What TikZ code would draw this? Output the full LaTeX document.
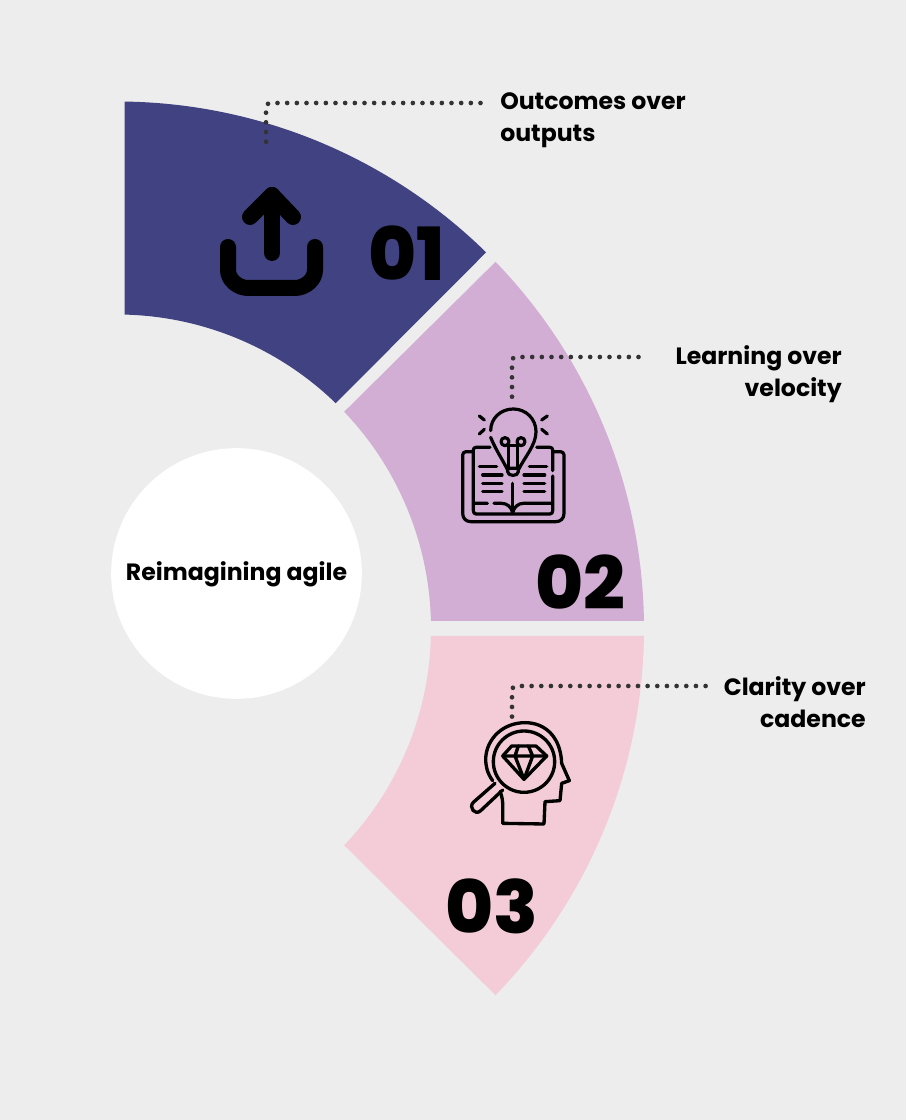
\documentclass[tikz,border=0pt]{standalone}
\usepackage{fontspec}
\setmainfont{Poppins}
\newfontfamily\numfont{Poppins ExtraBold}
\usetikzlibrary{calc}
\definecolor{bgcol}{HTML}{EDEDED}
\definecolor{navycol}{HTML}{414281}
\definecolor{lilaccol}{HTML}{D3AED4}
\definecolor{rosecol}{HTML}{F3CCD8}
\definecolor{dotcol}{HTML}{333333}
% colour, outer start/end angle, inner end/start angle
\newcommand{\sector}[5]{\fill[#1] ($(c)+(#2:527)$) arc[start angle=#2,end angle=#3,radius=527] -- ($(c)+(#4:314)$) arc[start angle=#4,end angle=#5,radius=314] -- cycle;}
\begin{document}
\begin{tikzpicture}[x=.75pt,y=.75pt,
label node/.style={font=\bfseries\fontsize{17.7}{24}\selectfont,inner sep=0pt},
num node/.style={font=\numfont\fontsize{55}{55}\selectfont,inner sep=0pt},
dots/.style={draw=dotcol,line width=3.5pt,line cap=round,dash pattern=on 0pt off 7.25pt,rounded corners=3pt},
icon/.style={line width=#1,line cap=round,line join=round,draw=black}]
\fill[bgcol] (0,0) rectangle (906,1120);
\useasboundingbox (0,0) rectangle (906,1120);
\coordinate (c) at (117,491.5);
\sector{navycol}{89.18}{45.54}{45.85}{88.63}
\sector{lilaccol}{44.09}{0.815}{1.37}{43.65}
\sector{rosecol}{-0.815}{-44.09}{-43.65}{-1.37}
\node[circle,fill=white,minimum size=188pt,inner sep=0pt] (hub) at (236.5,546.5) {};
\node[label node] (title) at (236.5,546) {Reimagining agile};
\node[num node] (n1) at (407,867) {01};
\node[num node] (n2) at (580,538) {02};
\node[num node] (n3) at (492,214) {03};
\node[label node,align=left,anchor=west] (t1) at (500,999.5) {Outcomes over\\outputs};
\node[label node,align=right,anchor=east] (t2) at (842,746) {Learning over\\velocity};
\node[label node,align=right,anchor=east] (t3) at (866,417.5) {Clarity over\\cadence};
\coordinate (d1) at (266,975.5);
\coordinate (e1) at (480.5,1017);
\coordinate (d2) at (512,722);
\coordinate (e2) at (638.5,763);
\coordinate (d3) at (512,397);
\coordinate (e3) at (705.6,434);
\draw[dots] (e1) -- (d1 |- e1) -- (d1);
\draw[dots] (e2) -- (d2 |- e2) -- (d2);
\draw[dots] (e3) -- (d3 |- e3) -- (d3);
% upload
\draw[icon=12pt] (228,873) -- (228,850) .. controls (228,840) and (238,832) .. (248,832) -- (295,832) .. controls (305,832) and (315,840) .. (315,850) -- (315,873);
\draw[icon=12pt] (272,867) -- (272,925);
\draw[icon=12pt] (250,903) -- (272,925) -- (293,903);
% bulb and book
\begin{scope}[shift={(440,780)},x=.25pt,y=-.25pt]
\draw[icon=2.4pt] (152,272) .. controls (152,235) and (182,207) .. (220,207) .. controls (258,207) and (288,237) .. (288,275) .. controls (288,315) and (255,350) .. (235,390);
\draw[icon=2.4pt] (152,292) .. controls (165,325) and (185,355) .. (203,390);
\draw[icon=2.4pt] (203,385) -- (235,385) -- (235,395) .. controls (235,410) and (203,410) .. (203,395) -- cycle;
\draw[icon=2.4pt] (205,385) -- (205,316) (232,385) -- (232,316) (205,316) -- (232,316);
\draw[icon=2.4pt] (195,305) circle[radius=12];
\draw[icon=2.4pt] (243,305) circle[radius=12];
\draw[icon=2.4pt] (118,228) -- (133,240) (118,282) -- (133,268) (322,228) -- (305,240) (322,282) -- (305,268);
\draw[icon=2.4pt] (97,335) -- (78,335) .. controls (72,335) and (68,340) .. (68,345) -- (68,520) .. controls (68,535) and (78,545) .. (92,545) -- (348,545) .. controls (362,545) and (372,535) .. (372,520) -- (372,345) .. controls (372,340) and (368,335) .. (362,335) -- (342,335);
\draw[icon=2.4pt] (150,322) -- (108,322) .. controls (103,322) and (100,325) .. (100,330) -- (100,512) .. controls (100,518) and (103,522) .. (108,522) -- (330,522) .. controls (335,522) and (338,518) .. (338,512) -- (338,408);
\draw[icon=2.4pt] (290,322) -- (330,322) .. controls (335,322) and (338,325) .. (338,330) -- (338,392);
\draw[icon=2.4pt] (102,490) -- (142,490) (162,490) -- (185,490) .. controls (200,490) and (214,500) .. (218,518) .. controls (222,500) and (236,490) .. (250,490) -- (336,490);
\draw[icon=2.4pt] (218,430) -- (218,518);
\draw[icon=2.4pt] (118,380) -- (170,380) (128,405) -- (186,405) (128,430) -- (186,430) (128,455) -- (186,455);
\draw[icon=2.4pt] (268,380) -- (320,380) (252,405) -- (314,405) (252,430) -- (314,430) (252,455) -- (314,455);
\end{scope}
% head and lens
\begin{scope}[shift={(450,450)},x=.25pt,y=-.25pt]
\draw[icon=2.5pt] (222,275) circle[radius=92];
\draw[icon=2.5pt] (128,332) .. controls (112,310) and (107,290) .. (107,265) .. controls (110,205) and (160,158) .. (225,158) .. controls (285,158) and (332,200) .. (335,280) -- (358,332) -- (335,340) -- (330,392) -- (285,395) -- (282,462) -- (158,460) -- (158,400) .. controls (158,390) and (155,375) .. (150,365);
\draw[icon=2.5pt] (135,340) -- (70,397) .. controls (55,412) and (75,438) .. (92,422) -- (158,360);
\draw[icon=2.5pt] (185,228) -- (258,228) -- (290,258) -- (222,328) -- (158,258) -- cycle;
\draw[icon=2.5pt] (158,258) -- (290,258) (205,228) -- (195,258) -- (222,328) -- (248,258) -- (235,228);
\end{scope}
\end{tikzpicture}
\end{document}
